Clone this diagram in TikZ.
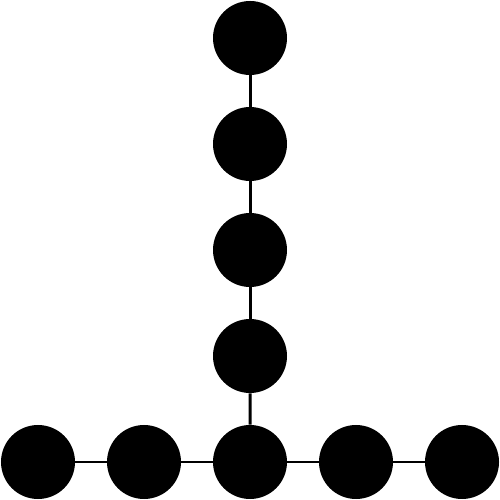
\documentclass[tikz,border=0pt]{standalone}
\usepackage{tikz}

\tikzset{
	perle/.style={circle, fill=black, draw=none, minimum size=1.48cm, inner sep=0pt},
	lien/.style={line width=1.7pt, black}
}

\begin{document}
\begin{tikzpicture}[scale=1]
	% Cadre de la figure
	\useasboundingbox (0,0) rectangle (10,10);
	
	% Ligne horizontale du bas
	\foreach \i in {0,...,4}
	{
		\node[perle] (h\i) at (0.76+2.12*\i,0.76) {};
	}
	
	% Colonne verticale
	\foreach \j in {1,...,4}
	{
		\node[perle] (v\j) at (5,0.76+2.12*\j) {};
	}
	
	% Liens horizontaux
	\foreach \i [evaluate=\i as \k using int(\i+1)] in {0,...,3}
	{
		\draw[lien] (h\i) -- (h\k);
	}
	
	% Liens verticaux
	\draw[lien] (h2) -- (v1);
	\foreach \j [evaluate=\j as \k using int(\j+1)] in {1,...,3}
	{
		\draw[lien] (v\j) -- (v\k);
	}
\end{tikzpicture}
\end{document}
